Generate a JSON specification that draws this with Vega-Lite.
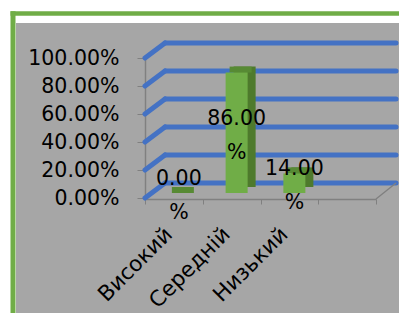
{
  "$schema": "https://vega.github.io/schema/vega-lite/v6.json",
  "width": 400,
  "height": 300,
  "autosize": "none",
  "padding": {"left": 16, "top": 23, "right": 0, "bottom": 0},
  "background": "white",
  "config": {
    "view": {"fill": "#a6a6a6", "stroke": null},
    "font": "DejaVu Sans"
  },
  "layer": [
    {
      "data": {"values": [{}]},
      "mark": {"type": "point", "opacity": 0},
      "encoding": {
        "x": {"datum": 0.5, "type": "quantitative", "scale": {"domain": [0, 1], "range": [-6, 420]},
          "axis": {"orient": "top", "offset": 10, "domainColor": "#70ad47", "domainWidth": 4.5, "ticks": false, "labels": false, "grid": false, "title": null}},
        "y": {"datum": 0.5, "type": "quantitative", "scale": {"domain": [0, 1], "range": [330, -12.25]},
          "axis": {"orient": "left", "offset": 3.5, "domainColor": "#70ad47", "domainWidth": 5, "ticks": false, "labels": false, "grid": false, "title": null}}
      }
    },
    {
      "data": {"values": [{"v": 0}, {"v": 0.2}, {"v": 0.4}, {"v": 0.6}, {"v": 0.8}, {"v": 1}]},
      "layer": [
        {
          "mark": {"type": "rule", "color": "#4472c4", "strokeWidth": 5, "strokeCap": "round", "x2Offset": 20, "y2Offset": -15},
          "encoding": {
            "x": {"datum": 0, "type": "quantitative", "scale": {"domain": [0, 4], "range": [129, 360]}, "axis": null},
            "x2": {"datum": 0},
            "y": {"field": "v", "type": "quantitative", "title": null, "axis": null, "scale": {"domain": [0, 1], "range": [175, 35]}},
            "y2": {"field": "v"}
          }
        },
        {
          "mark": {"type": "rule", "color": "#4472c4", "strokeWidth": 5, "strokeCap": "round", "xOffset": 20, "x2Offset": 20, "yOffset": -15},
          "encoding": {
            "x": {"datum": 0, "type": "quantitative", "scale": {"domain": [0, 4], "range": [129, 360]}, "axis": null},
            "x2": {"datum": 4},
            "y": {"field": "v", "type": "quantitative", "title": null, "axis": null}
          }
        },
        {
          "transform": [{"filter": "datum.v == 0"}],
          "mark": {"type": "rule", "color": "#808080", "strokeWidth": 1.5, "x2Offset": 20, "y2Offset": -15, "yOffset": 1},
          "encoding": {
            "x": {"datum": 4, "type": "quantitative", "scale": {"domain": [0, 4], "range": [129, 360]}, "axis": null},
            "x2": {"datum": 4},
            "y": {"field": "v", "type": "quantitative", "title": null, "axis": null},
            "y2": {"field": "v"}
          }
        }
      ]
    },
    {
      "data": {"values": [
        {"category": "Високий", "value": 0},
        {"category": "Середній", "value": 0.86},
        {"category": "Низький", "value": 0.14}
      ]},
      "transform": [
        {"calculate": "datum.value / 2", "as": "mid"},
        {"calculate": "[format(datum.value * 100, '.2f'), '%']", "as": "label"}
      ],
      "encoding": {
        "x": {
          "field": "category", "type": "nominal", "sort": null, "title": null,
          "scale": {"domain": ["Високий", "Середній", "Низький", " "], "range": [129, 360], "paddingInner": 0, "paddingOuter": 0},
          "axis": {
            "orient": "bottom", "offset": -124, "tickBand": "extent", "tickSize": 5,
            "labelAngle": -45, "labelAlign": "right", "labelBaseline": "middle",
            "labelFontSize": 21.5, "labelPadding": 27, "labelOffset": -5, "labelColor": "#000000",
            "domainColor": "#808080", "tickColor": "#808080", "domainWidth": 1.5
          }
        }
      },
      "layer": [
        {
          "mark": {"type": "bar", "width": 22, "xOffset": 13, "yOffset": -11, "y2Offset": -11, "color": "#4e7a2c"},
          "encoding": {
            "y": {"field": "value", "type": "quantitative", "title": null,
              "scale": {"domain": [0, 1], "range": [175, 35]},
              "axis": {"orient": "left", "offset": -129, "values": [0, 0.2, 0.4, 0.6, 0.8, 1], "format": ".2%",
                "labelFontSize": 20.5, "labelColor": "#000000", "labelPadding": 18, "tickSize": 8,
                "tickColor": "#808080", "domainColor": "#808080", "domainWidth": 1.5, "grid": false}}
          }
        },
        {
          "mark": {"type": "bar", "width": 22, "xOffset": 9, "yOffset": -5, "y2Offset": -11, "color": "#578a34"},
          "encoding": {
            "y": {"field": "value", "type": "quantitative", "title": null},
            "y2": {"field": "value"}
          }
        },
        {
          "mark": {"type": "bar", "width": 22, "xOffset": 5, "yOffset": -5, "y2Offset": -5, "color": "#70ad47"},
          "encoding": {
            "y": {"field": "value", "type": "quantitative", "title": null}
          }
        },
        {
          "mark": {"type": "text", "fontSize": 20.5, "lineHeight": 34, "align": "center", "baseline": "middle", "xOffset": 5, "yOffset": -19, "color": "#000000"},
          "encoding": {
            "y": {"field": "mid", "type": "quantitative", "title": null},
            "text": {"field": "label"}
          }
        }
      ]
    }
  ],
  "resolve": {"scale": {"x": "independent", "y": "independent"}}
}
